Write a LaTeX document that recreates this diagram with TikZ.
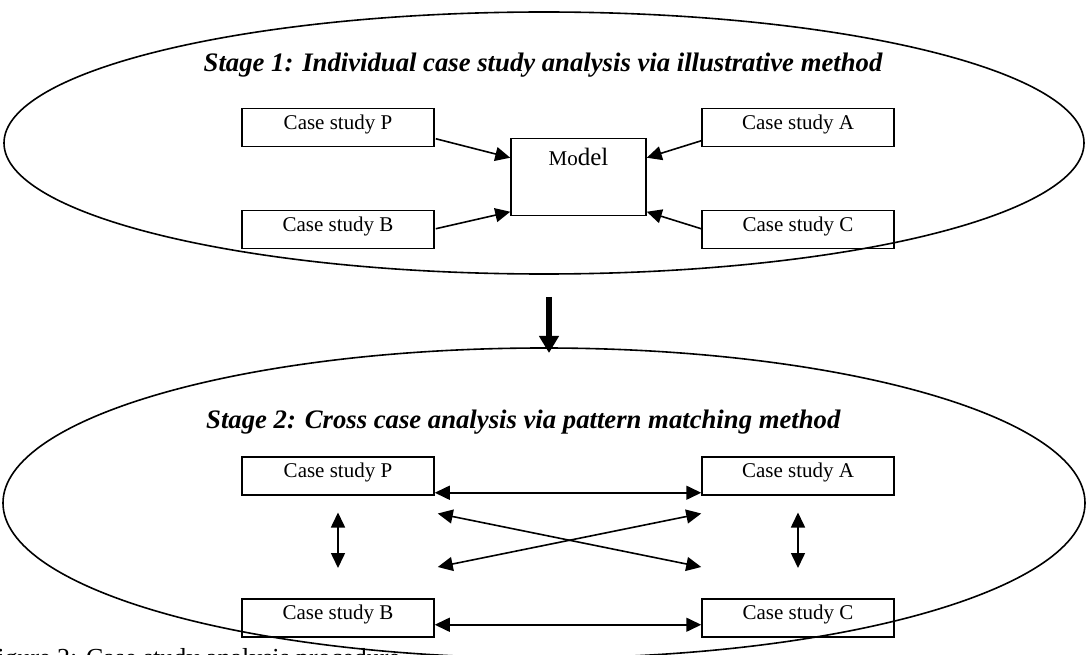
\documentclass[tikz,border=0pt]{standalone}
\usepackage{fontspec}
\setmainfont{Liberation Serif}
\usetikzlibrary{shapes.geometric,arrows.meta,calc}
\begin{document}
\begin{tikzpicture}[x=1pt,y=-1pt,
  stagering/.style={draw, ellipse, line width=1.6pt, inner sep=0pt, outer sep=0pt},
  casebox/.style={draw, line width=1.5pt, minimum width=192pt, inner xsep=0pt, inner ysep=6pt,
    text height=15pt, text depth=11pt, anchor=north, font=\fontsize{21}{24}\selectfont},
  modelbox/.style={draw, line width=1.5pt, minimum width=135pt, inner ysep=6pt,
    text height=21pt, text depth=44pt, anchor=north},
  stagetitle/.style={font=\fontsize{26.7}{30}\selectfont\bfseries\itshape, inner sep=0pt},
  feed/.style={line width=1.6pt, -{Triangle[length=15pt,width=14pt]}},
  mutual/.style={line width=1.6pt, {Triangle[length=15pt,width=14pt]}-{Triangle[length=15pt,width=14pt]}},
  bigarrow/.style={line width=6pt, -{Triangle[length=17pt,width=19pt]}}
]
\useasboundingbox (0,0) rectangle (1088,655);
\clip (0,0) rectangle (1088,655);

% stage rings
\node[stagering, minimum width=1080pt, minimum height=262pt] (E1) at (544,143) {};
\node[stagering, minimum width=1082pt, minimum height=310pt] (E2) at (544,503) {};

% titles
\node[stagetitle, anchor=base] (T1) at (543,72) {Stage 1: Individual case study analysis via illustrative method};
\node[stagetitle, anchor=base west] (T2) at (206,428) {Stage 2: Cross case analysis via pattern matching method};

% stage 1 boxes
\node[casebox] (P1) at (338,108) {Case study P};
\node[casebox] (B1) at (338,210) {Case study B};
\node[casebox] (A1) at (798,108) {Case study A};
\node[casebox] (C1) at (798,210) {Case study C};
\node[modelbox] (M) at (578.5,138) {{\fontsize{21}{24}\selectfont Mo}{\fontsize{25}{28}\selectfont del}};

\draw[feed] ($(P1.east)+(1,11)$) -- ($(M.west)+(0,-19.5)$);
\draw[feed] ($(B1.east)+(1,-1)$) -- ($(M.west)+(0,34.5)$);
\draw[feed] ($(A1.west)+(0,13)$) -- ($(M.east)+(0,-19.5)$);
\draw[feed] ($(C1.west)+(0,-1)$) -- ($(M.east)+(0,34.5)$);

% transition arrow
\draw[bigarrow] ($(E1.south)+(5,23)$) -- ($(E2.north)+(5,5)$);

% stage 2 boxes
\node[casebox] (P2) at (338,456) {Case study P};
\node[casebox] (B2) at (338,598) {Case study B};
\node[casebox] (A2) at (798,456) {Case study A};
\node[casebox] (C2) at (798,598) {Case study C};

\draw[mutual] ($(P2.east)+(0,17)$) -- ($(A2.west)+(0,17)$);
\draw[mutual] ($(B2.east)+(0,7)$) -- ($(C2.west)+(0,7)$);
\draw[mutual] ($(P2.south east)+(3,18)$) -- ($(C2.north west)+(0,-31)$);
\draw[mutual] ($(B2.north east)+(3,-31)$) -- ($(A2.south west)+(0,18)$);
\draw[mutual] ($(P2.south)+(0,17)$) -- ($(B2.north)+(0,-30)$);
\draw[mutual] ($(A2.south)+(0,17)$) -- ($(C2.north)+(0,-30)$);

% clipped caption
\node[anchor=base west, inner sep=0pt, font=\fontsize{26}{30}\selectfont] (cap) at (57,666) {\llap{Figure }2: Case study analysis procedure};
\end{tikzpicture}
\end{document}
